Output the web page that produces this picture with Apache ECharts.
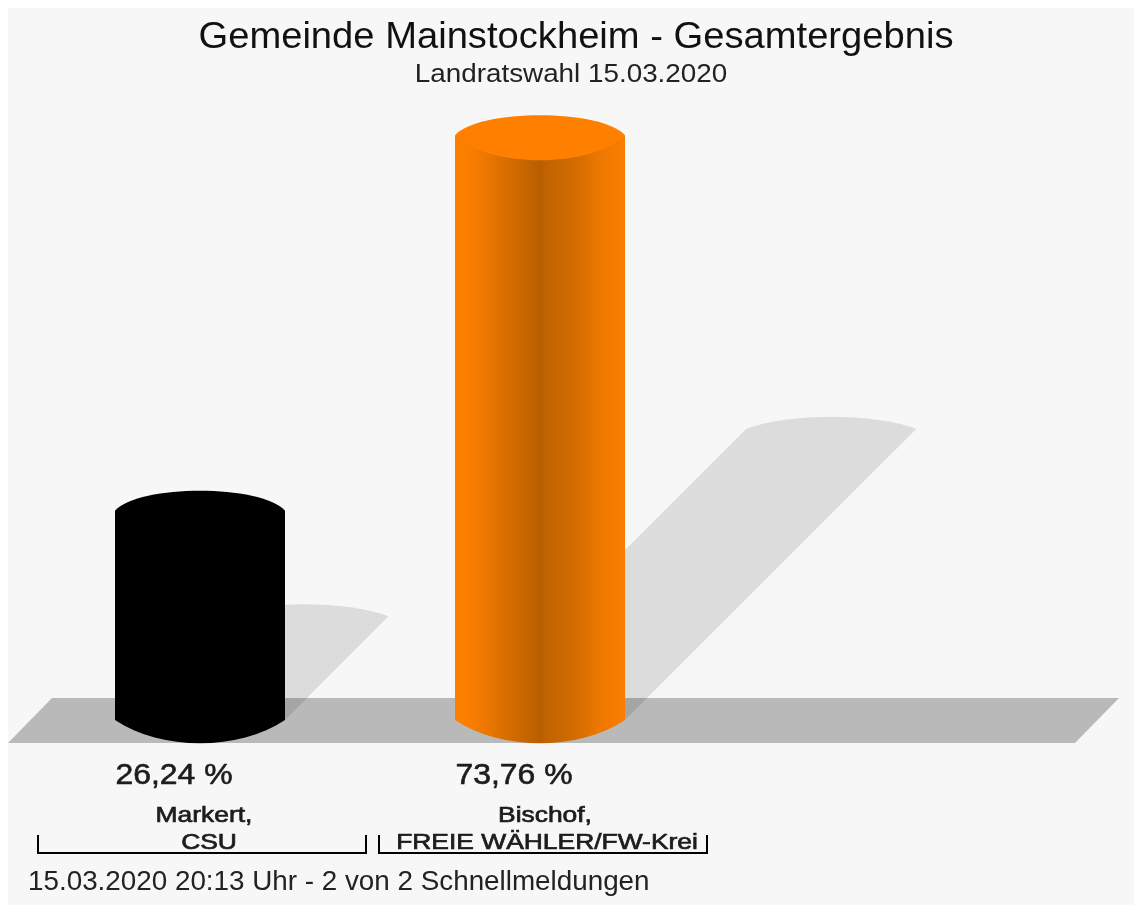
<!DOCTYPE html>
<html>
<head>
<meta charset="utf-8">
<title>Gemeinde Mainstockheim - Gesamtergebnis</title>
<style>
  html, body { margin: 0; padding: 0; background: #ffffff; }
  #chart { width: 1134px; height: 908px; }
</style>
<script src="https://cdn.jsdelivr.net/npm/echarts@6/dist/echarts.min.js"></script>
</head>
<body>
<div id="chart"></div>
<script>
var categories = ['Markert,\nCSU', 'Bischof,\nFREIE WÄHLER/FW-Krei'];
var shares = [26.24, 73.76];
var shareLabels = ['26,24 %', '73,76 %'];
var barColors = ['#000000', '#ff8000'];
var barShades = ['#000000', '#b85f00'];
var titleText = 'Gemeinde Mainstockheim - Gesamtergebnis';
var subtitleText = 'Landratswahl 15.03.2020';
var footerText = '15.03.2020 20:13 Uhr - 2 von 2 Schnellmeldungen';

var fontName = '"Liberation Sans", Arial, sans-serif';
// offset across the bar, and how far towards the dark shade it goes
var shadeStops = [[0, 0], [0.08, 0.05], [0.2, 0.3], [0.35, 0.68], [0.5, 1], [0.55, 0.85], [0.7, 0.65], [0.85, 0.25], [1, 0.08]];

var chart = echarts.init(document.getElementById('chart'));

// shadow falls up and to the right, half the bar height at 45 degrees
function renderShadow(params, api) {
  var base = api.coord([api.value(0), 0]);
  var top = api.coord([api.value(0), api.value(1)]);
  var rx = api.size([1, 0])[0] / 4;
  var d = (base[1] - top[1]) / 2;
  var tx = base[0] + d;
  var ty = base[1] - d;
  var path = 'M' + (base[0] - rx) + ' ' + base[1] +
    'L' + (tx - rx) + ' ' + ty +
    'C' + (tx - rx * 0.5) + ' ' + (ty - 16) + ' ' + (tx + rx * 0.5) + ' ' + (ty - 16) + ' ' + (tx + rx) + ' ' + ty +
    'L' + (base[0] + rx) + ' ' + base[1] + 'Z';
  return {
    type: 'path',
    shape: { pathData: path },
    style: { fill: 'rgba(0,0,0,0.105)' },
    silent: true
  };
}

function renderCylinder(params, api) {
  var i = params.dataIndex;
  var base = api.coord([api.value(0), 0]);
  var top = api.coord([api.value(0), api.value(1)]);
  var rx = api.size([1, 0])[0] / 4;
  var x0 = base[0] - rx;
  var x1 = base[0] + rx;
  var yTop = top[1] - 2;
  var yBase = base[1];
  var stops = shadeStops.map(function (s) {
    return { offset: s[0], color: echarts.color.lerp(s[1], [barColors[i], barShades[i]]) };
  });
  return {
    type: 'group',
    children: [
      {
        type: 'path',
        shape: {
          pathData: 'M' + x0 + ' ' + yTop +
            'L' + x0 + ' ' + yBase +
            'C' + (base[0] - rx * 0.45) + ' ' + (yBase + 31) + ' ' + (base[0] + rx * 0.45) + ' ' + (yBase + 31) + ' ' + x1 + ' ' + yBase +
            'L' + x1 + ' ' + yTop + 'Z'
        },
        style: { fill: new echarts.graphic.LinearGradient(0, 0, 1, 0, stops) }
      },
      {
        type: 'path',
        shape: {
          pathData: 'M' + x0 + ' ' + yTop +
            'C' + (base[0] - rx * 0.72) + ' ' + (yTop - 26.7) + ' ' + (base[0] + rx * 0.72) + ' ' + (yTop - 26.7) + ' ' + x1 + ' ' + yTop +
            'C' + (base[0] + rx * 0.6) + ' ' + (yTop + 33.3) + ' ' + (base[0] - rx * 0.6) + ' ' + (yTop + 33.3) + ' ' + x0 + ' ' + yTop + 'Z'
        },
        style: { fill: barColors[i] }
      }
    ]
  };
}

function labelText(x, y, text, font, scale, weight) {
  return {
    type: 'text',
    x: x,
    y: y,
    scaleX: scale,
    style: {
      text: text, font: font + ' ' + fontName, fill: '#1c1c1c',
      stroke: '#1c1c1c', lineWidth: weight,
      textAlign: 'center', textVerticalAlign: 'middle'
    }
  };
}

function renderLabels(params, api) {
  var i = params.dataIndex;
  var base = api.coord([api.value(0), 0]);
  var band = api.size([1, 0])[0];
  var names = categories[i].split('\n');
  var left = base[0] - band / 2 + 8 + i;
  var right = left + band - 12;
  return {
    type: 'group',
    children: [
      labelText(base[0] - 26, 776, shareLabels[i], '29px', 1.1, 0.6),
      labelText(base[0] + 4 + i, 816, names[0], '22px', 1.2, 0.7),
      labelText(base[0] + 9 - 2 * i, 843, names[1], '22px', 1.2, 0.7),
      {
        type: 'path',
        shape: {
          pathData: 'M' + left + ' 835L' + left + ' 853L' + right + ' 853L' + right + ' 835'
        },
        style: { fill: 'none', stroke: '#000000', lineWidth: 2 }
      }
    ]
  };
}

var seriesData = shares.map(function (v, i) { return [i, v]; });

var option = {
  backgroundColor: '#ffffff',
  animation: false,
  grid: { left: 30, top: 88, width: 680, height: 632 },
  xAxis: { type: 'category', data: categories, show: false },
  yAxis: { type: 'value', min: 0, max: 80, show: false },
  graphic: [
    {
      type: 'rect',
      z: 0,
      shape: { x: 8, y: 8, width: 1126, height: 897 },
      style: { fill: '#f7f7f7' }
    },
    {
      type: 'polygon',
      z: 1,
      shape: { points: [[8, 743], [52, 698], [1119, 698], [1075, 743]] },
      style: { fill: '#b9b9b9' }
    },
    {
      type: 'text', z: 1, x: 576, y: 38, scaleX: 1.06,
      style: { text: titleText, font: '36px ' + fontName, fill: '#111111', textAlign: 'center', textVerticalAlign: 'middle' }
    },
    {
      type: 'text', z: 1, x: 571, y: 75, scaleX: 1.07,
      style: { text: subtitleText, font: '26px ' + fontName, fill: '#222222', textAlign: 'center', textVerticalAlign: 'middle' }
    },
    {
      type: 'text', z: 1, x: 28, y: 883, scaleX: 1.03,
      style: { text: footerText, font: '27px ' + fontName, fill: '#222222', textAlign: 'left', textVerticalAlign: 'middle' }
    }
  ],
  series: [
    { type: 'custom', name: 'Schatten', z: 2, data: seriesData, renderItem: renderShadow, encode: { x: 0, y: 1 }, clip: false },
    { type: 'custom', name: 'Anteil', z: 3, data: seriesData, renderItem: renderCylinder, encode: { x: 0, y: 1 }, clip: false },
    { type: 'custom', name: 'Beschriftung', z: 4, data: seriesData, renderItem: renderLabels, encode: { x: 0, y: 1 }, clip: false }
  ]
};

chart.setOption(option);
</script>
</body>
</html>
